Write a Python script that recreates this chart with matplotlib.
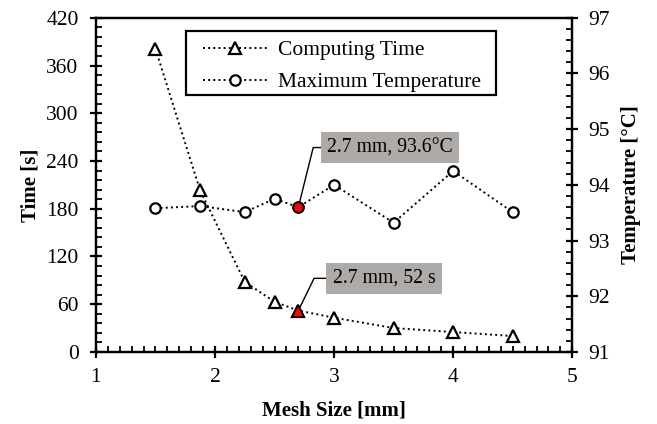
import numpy as np
import matplotlib.pyplot as plt
from matplotlib.ticker import MultipleLocator
from matplotlib.patches import Rectangle

plt.rcParams['font.family'] = ['Liberation Serif', 'DejaVu Serif']
plt.rcParams['font.size'] = 15.5

# mesh size [mm]
mesh = [1.5, 1.875, 2.25, 2.5, 2.7, 3.0, 3.5, 4.0, 4.5]
# computing time [s]
time_s = [381, 203, 88, 63, 52, 43, 30, 25, 20]
# maximum temperature [degC]
temp_c = [93.58, 93.62, 93.51, 93.75, 93.6, 94.0, 93.32, 94.25, 93.51]

sel = 4  # the chosen mesh (2.7 mm)

fig = plt.figure(figsize=(6.57, 4.24), dpi=100)
ax1 = fig.add_axes([0.146, 0.170, 0.725, 0.788])
ax2 = ax1.twinx()

l1, = ax1.plot(mesh, time_s, ls=':', lw=1.4, color='black', marker='^',
               ms=8, mfc='white', mec='black', mew=1.6, label='Computing Time')
ax1.plot(mesh[sel], time_s[sel], ls='none', marker='^', ms=8, mfc='red',
         mec='black', mew=1.2, zorder=5)

l2, = ax2.plot(mesh, temp_c, ls=':', lw=1.4, color='black', marker='o',
               ms=7.5, mfc='white', mec='black', mew=1.6,
               label='Maximum Temperature')
ax2.plot(mesh[sel], temp_c[sel], ls='none', marker='o', ms=7.5, mfc='red',
         mec='black', mew=1.2, zorder=5)

ax1.set_xlim(1, 5)
ax1.set_ylim(0, 420)
ax2.set_ylim(91, 97)
ax1.xaxis.set_major_locator(MultipleLocator(1))
ax1.xaxis.set_minor_locator(MultipleLocator(0.1))
ax1.yaxis.set_major_locator(MultipleLocator(60))
ax1.yaxis.set_minor_locator(MultipleLocator(12))
ax2.yaxis.set_major_locator(MultipleLocator(1))
ax2.yaxis.set_minor_locator(MultipleLocator(0.2))

for ax in (ax1, ax2):
    ax.tick_params(which='major', direction='inout', length=9, width=1.6,
                   labelsize=15.5)
    ax.tick_params(which='minor', direction='in', length=4, width=1.3)
    for sp in ax.spines.values():
        sp.set_linewidth(1.6)
ax1.tick_params(axis='x', which='major', pad=7)
ax1.tick_params(axis='y', which='major', pad=8)
ax2.tick_params(axis='y', which='major', pad=7)

ax1.set_xlabel('Mesh Size [mm]', fontweight='bold', fontsize=15, labelpad=10)
ax1.set_ylabel('Time [s]', fontweight='bold', fontsize=15, labelpad=4)
ax2.set_ylabel('Temperature [°C]', fontweight='bold', fontsize=15, labelpad=8)

box = dict(boxstyle='square,pad=0.32', fc='#aeaaa8', ec='none')
arrow_t = dict(arrowstyle='-', color='black', lw=1,
               connectionstyle='angle,angleA=0,angleB=76,rad=0',
               shrinkA=0, shrinkB=3)
ax2.annotate('2.7 mm, 93.6°C', xy=(mesh[sel], temp_c[sel]),
             xytext=(3.47, 94.67), ha='center', va='center', fontsize=14.2,
             bbox=box, arrowprops=arrow_t, zorder=6)
arrow_c = dict(arrowstyle='-', color='black', lw=1,
               connectionstyle='angle,angleA=0,angleB=64,rad=0',
               shrinkA=0, shrinkB=3)
ax2.annotate('2.7 mm, 52 s', xy=(mesh[sel], 91 + time_s[sel] / 420 * 6),
             xytext=(3.42, 91 + 92.5 / 420 * 6), ha='center', va='center',
             fontsize=14.2, bbox=box, arrowprops=arrow_c, zorder=6)

# legend frame drawn separately (wider side padding than matplotlib's)
frame = Rectangle((0.189, 0.769), 0.651, 0.192, transform=ax2.transAxes,
                  fc='white', ec='black', lw=1.6, zorder=4.5)
ax2.add_patch(frame)
leg = ax2.legend([l1, l2], ['Computing Time', 'Maximum Temperature'],
                 loc='upper left', bbox_to_anchor=(0.225, 0.933),
                 borderaxespad=0, borderpad=0, numpoints=1, handlelength=3.0,
                 handletextpad=0.5, frameon=False, fontsize=15.5,
                 labelspacing=0.55)
leg.set_zorder(5)

fig.savefig('out.png', dpi=100)
